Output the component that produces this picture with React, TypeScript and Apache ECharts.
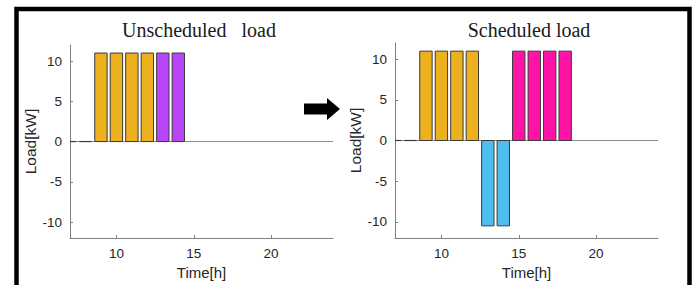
import React, { useEffect, useRef } from "react";
import * as echarts from "echarts";

// ---- data ----
const xTicks = [10, 15, 20];
const yTicks = [-10, -5, 0, 5, 10];

// Unscheduled load
const unschedFixedHours = [7, 8, 9, 10, 11, 12];
const unschedFixedLoad = [0, 0, 11, 11, 11, 11];
const unschedShiftHours = [13, 14];
const unschedShiftLoad = [11, 11];

// Scheduled load
const schedFixedHours = [7, 8, 9, 10, 11, 12];
const schedFixedLoad = [0, 0, 11, 11, 11, 11];
const schedNegHours = [13, 14];
const schedNegLoad = [-10.5, -10.5];
const schedShiftHours = [15, 16, 17, 18];
const schedShiftLoad = [11, 11, 11, 11];

const ORANGE = "#EDB120";
const PURPLE = "#B845F8";
const BLUE = "#4DBEEE";
const PINK = "#FF14A6";
const EDGE = "#3a3a3a";
const AXIS = "#7f7f7f";
const TEXT = "#262626";
const BAR_HALF = 0.4;

const zip = (h: number[], v: number[]) => h.map((x, i) => [x, v[i]]);

function makeRenderer(color: string) {
  return (params: any, api: any) => {
    const h = api.value(0);
    const v = api.value(1);
    const cs = params.coordSys;
    const a = api.coord([h - BAR_HALF, v]);
    const b = api.coord([h + BAR_HALF, 0]);
    const x1 = Math.max(Math.min(a[0], b[0]), cs.x);
    const x2 = Math.min(Math.max(a[0], b[0]), cs.x + cs.width);
    if (x2 <= x1) return null;
    if (v === 0) {
      return {
        type: "line",
        shape: { x1, y1: b[1], x2, y2: b[1] },
        style: { stroke: EDGE, lineWidth: 1.2 },
      };
    }
    return {
      type: "rect",
      shape: {
        x: x1,
        y: Math.min(a[1], b[1]),
        width: x2 - x1,
        height: Math.abs(a[1] - b[1]),
      },
      style: { fill: color, stroke: EDGE, lineWidth: 1 },
    };
  };
}

function barSeries(idx: number, data: number[][], color: string, withBase: boolean) {
  const s: any = {
    type: "custom",
    xAxisIndex: idx,
    yAxisIndex: idx,
    renderItem: makeRenderer(color),
    data,
    z: 10,
    clip: true,
  };
  if (withBase) {
    s.markLine = {
      silent: true,
      symbol: "none",
      label: { show: false },
      lineStyle: { color: "#8c8c8c", width: 1, type: "solid" },
      data: [{ yAxis: 0 }],
      z: 1,
    };
  }
  return s;
}

function xAxisDef(idx: number) {
  return {
    type: "value",
    gridIndex: idx,
    min: 7,
    max: 24,
    name: "Time[h]",
    nameLocation: "middle",
    nameGap: 26,
    nameTextStyle: { fontFamily: "Liberation Sans, Arial, sans-serif", fontSize: 15, color: TEXT },
    axisLine: { show: true, onZero: false, lineStyle: { color: AXIS, width: 1 } },
    axisTick: { show: true, inside: true, length: 3, customValues: xTicks, lineStyle: { color: AXIS } },
    axisLabel: {
      customValues: xTicks,
      margin: 8,
      fontFamily: "Liberation Sans, Arial, sans-serif",
      fontSize: 13.5,
      color: TEXT,
    },
    splitLine: { show: false },
  };
}

function yAxisDef(idx: number) {
  return {
    type: "value",
    gridIndex: idx,
    min: -12,
    max: 12,
    name: "Load[kW]",
    nameLocation: "middle",
    nameGap: 29,
    nameRotate: 90,
    nameTextStyle: { fontFamily: "Liberation Sans, Arial, sans-serif", fontSize: 15.5, color: TEXT },
    axisLine: { show: true, lineStyle: { color: AXIS, width: 1 } },
    axisTick: { show: true, inside: true, length: 3, customValues: yTicks, lineStyle: { color: AXIS } },
    axisLabel: {
      customValues: yTicks,
      margin: 8,
      fontFamily: "Liberation Sans, Arial, sans-serif",
      fontSize: 13.5,
      color: TEXT,
    },
    splitLine: { show: false },
  };
}

export default function App() {
  const ref = useRef<HTMLDivElement>(null);
  useEffect(() => {
    if (!ref.current) return;
    const chart = echarts.init(ref.current, null, { renderer: "svg" });
    const titleStyle = {
      fontFamily: "Liberation Serif, Times New Roman, serif",
      fontSize: 20,
      fontWeight: "normal",
      color: "#1a1a1a",
    };
    chart.setOption({
      animation: false,
      backgroundColor: "#fff",
      title: [
        { text: "Unscheduled\u00A0\u00A0\u00A0load", left: 194, top: 15, textAlign: "center", textStyle: titleStyle },
        { text: "Scheduled load", left: 524, top: 15, textAlign: "center", textStyle: titleStyle },
      ],
      grid: [
        { left: 70, top: 45, width: 263, height: 194 },
        { left: 395, top: 43, width: 263, height: 195 },
      ],
      xAxis: [xAxisDef(0), xAxisDef(1)],
      yAxis: [yAxisDef(0), yAxisDef(1)],
      series: [
        barSeries(0, zip(unschedFixedHours, unschedFixedLoad), ORANGE, true),
        barSeries(0, zip(unschedShiftHours, unschedShiftLoad), PURPLE, false),
        barSeries(1, zip(schedFixedHours, schedFixedLoad), ORANGE, true),
        barSeries(1, zip(schedNegHours, schedNegLoad), BLUE, false),
        barSeries(1, zip(schedShiftHours, schedShiftLoad), PINK, false),
      ],
      graphic: [
        {
          type: "rect",
          shape: { x: 16.5, y: 9, width: 673, height: 300 },
          style: { fill: "none", stroke: "#000", lineWidth: 4.5 },
          silent: true,
        },
        {
          type: "polygon",
          shape: {
            points: [
              [304, 103.5],
              [327, 103.5],
              [327, 98],
              [340, 109],
              [327, 120],
              [327, 114.5],
              [304, 114.5],
            ],
          },
          style: { fill: "#000" },
          silent: true,
        },
      ],
    });
    return () => chart.dispose();
  }, []);
  return (
    <div
      ref={ref}
      style={{ position: "fixed", left: 0, top: 0, width: 699, height: 285 }}
    />
  );
}
